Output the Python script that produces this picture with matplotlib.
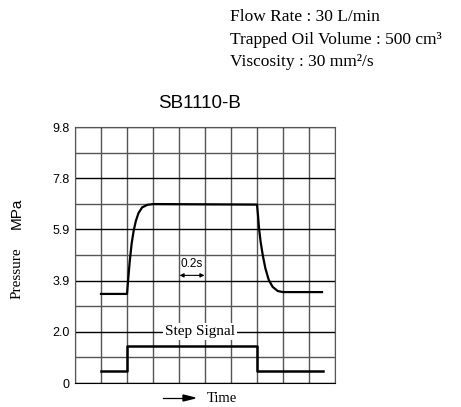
import numpy as np
import matplotlib.pyplot as plt

# pressure response (time in grid divisions, pressure in MPa)
t_press = [1.0, 2.0, 2.04, 2.1, 2.18, 2.26, 2.34, 2.44, 2.58, 2.78, 3.0,
           7.0, 7.04, 7.08, 7.14, 7.22, 7.32, 7.45, 7.6, 7.8, 8.0, 9.5]
pressure = [3.41, 3.41, 3.9, 4.6, 5.35, 5.85, 6.2, 6.5, 6.72, 6.82, 6.85,
            6.83, 6.4, 5.9, 5.4, 4.9, 4.4, 3.95, 3.68, 3.52, 3.48, 3.48]

# step signal
t_step = [1.0, 2.0, 2.0, 7.0, 7.0, 9.55]
step = [0.46, 0.46, 1.42, 1.42, 0.46, 0.46]

ytick_pos = [0, 1.96, 3.92, 5.88, 7.84, 9.8]
ytick_lab = ['0', '2.0', '3.9', '5.9', '7.8', '9.8']

conditions = ['Flow Rate : 30 L/min',
              'Trapped Oil Volume : 500 cm\u00b3',
              'Viscosity : 30 mm\u00b2/s']

serif = 'Liberation Serif'
sans = 'Liberation Sans'

fig = plt.figure(figsize=(4.61, 4.07), dpi=100)
ax = fig.add_axes([75/461, 1-383/407, 260/461, 256/407])

ax.plot(t_press, pressure, color='black', lw=1.6)
ax.plot(t_step, step, color='black', lw=1.8)

ax.set_xlim(0, 10)
ax.set_ylim(0, 9.8)
ax.set_xticks(np.arange(0, 11))
ax.set_xticklabels([])
ax.set_yticks(ytick_pos)
ax.set_yticklabels(ytick_lab, fontfamily=sans, fontsize=9)
ax.set_yticks(np.arange(0.98, 9.8, 1.96), minor=True)
ax.tick_params(which='both', length=0, pad=4)
ax.grid(axis='x', color='#555555', lw=1.0)
ax.grid(axis='y', which='major', color='black', lw=1.0)
ax.grid(axis='y', which='minor', color='#555555', lw=1.0)
for s in ax.spines.values():
    s.set_color('#555555')
ax.spines['bottom'].set_color('black')

ax.text(4.8, 1.96, 'Step Signal', fontfamily=serif, fontsize=11,
        ha='center', va='center',
        bbox=dict(facecolor='white', edgecolor='none', pad=1.5))
ax.text(4.5, 4.55, '0.2s', fontfamily=sans, fontsize=8.5,
        ha='center', va='center')
ax.annotate('', xy=(4.02, 4.12), xytext=(4.98, 4.12),
            arrowprops=dict(arrowstyle='<|-|>', color='black', lw=0.8,
                            mutation_scale=6, shrinkA=0, shrinkB=0))

fig.text(200/461, 1-103/407, 'SB1110-B', fontfamily=sans, fontsize=13.5,
         ha='center', va='center')

for i, line in enumerate(conditions):
    fig.text(230/461, 1-(17+22.5*i)/407, line, fontfamily=serif,
             fontsize=12.5, ha='left', va='center')

fig.text(17/461, 1-273/407, 'Pressure', fontfamily=serif, fontsize=11,
         rotation=90, ha='center', va='center')
fig.text(17/461, 1-213/407, 'MPa', fontfamily=sans, fontsize=11,
         rotation=90, ha='center', va='center')

fig.text(207/461, 1-398/407, 'Time', fontfamily=serif, fontsize=10.5,
         ha='left', va='center')
fig.add_artist(plt.Line2D([163/461, 185/461], [1-398/407, 1-398/407],
                          color='black', lw=0.9))
fig.patches.append(plt.Polygon([[183/461, 1-395/407], [195/461, 1-398/407],
                                [183/461, 1-401/407]], closed=True,
                               color='black', transform=fig.transFigure,
                               figure=fig))

fig.savefig('out.png', dpi=100)
